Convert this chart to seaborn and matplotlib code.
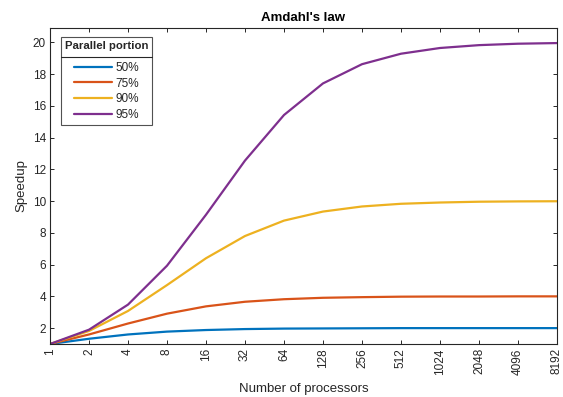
import matplotlib
matplotlib.use("Agg")
import matplotlib.pyplot as plt
import seaborn as sns
import pandas as pd
from matplotlib.lines import Line2D

processors = ["1", "2", "4", "8", "16", "32", "64", "128", "256", "512", "1024", "2048", "4096", "8192"]
s50 = [1.00, 1.33, 1.60, 1.78, 1.88, 1.94, 1.97, 1.98, 1.99, 2.00, 2.00, 2.00, 2.00, 2.00]
s75 = [1.00, 1.60, 2.29, 2.91, 3.37, 3.66, 3.82, 3.91, 3.95, 3.98, 3.99, 3.99, 4.00, 4.00]
s90 = [1.00, 1.82, 3.08, 4.71, 6.40, 7.80, 8.77, 9.34, 9.66, 9.83, 9.91, 9.96, 9.98, 9.99]
s95 = [1.00, 1.90, 3.48, 5.93, 9.14, 12.55, 15.42, 17.41, 18.62, 19.28, 19.64, 19.82, 19.91, 19.95]
portions = ["50%", "75%", "90%", "95%"]
colors = ["#0072BD", "#D95319", "#EDB120", "#7E2F8E"]

rows = []
for name, vals in zip(portions, [s50, s75, s90, s95]):
    for i, v in enumerate(vals):
        rows.append({"pos": i, "Speedup": v, "portion": name})
df = pd.DataFrame(rows)

sns.set_style("white")
plt.rcParams["font.family"] = ["Liberation Sans", "DejaVu Sans"]
tc = "#262626"

fig = plt.figure(figsize=(5.63, 3.97), dpi=100)
ax = fig.add_axes([0.0888, 0.1335, 0.9005, 0.7960])
sns.lineplot(data=df, x="pos", y="Speedup", hue="portion", palette=colors,
             linewidth=1.6, ax=ax, legend=False)

ax.set_xlim(0, len(processors) - 1)
ax.set_ylim(1, 20.9)
ax.set_xticks(range(len(processors)))
ax.set_xticklabels(processors, rotation=90, fontsize=8.5, color=tc)
ax.set_yticks(range(2, 21, 2))
ax.tick_params(axis="y", labelsize=8.5, labelcolor=tc)
ax.tick_params(direction="in", length=3, width=0.7, color=tc, top=True, right=True,
               bottom=True, left=True, pad=3)
for sp in ax.spines.values():
    sp.set_visible(True)
    sp.set_color(tc)
    sp.set_linewidth(0.8)
ax.set_xlabel("Number of processors", fontsize=9.5, color=tc, labelpad=6)
ax.set_ylabel("Speedup", fontsize=9.5, color=tc, labelpad=4)
ax.set_title("Amdahl's law", fontsize=9.5, fontweight="bold", color="black", pad=5)

handles = [Line2D([], [], color=c, lw=1.6) for c in colors]
leg = ax.legend(handles, portions, title="Parallel portion", loc="upper left",
                bbox_to_anchor=(0.021, 0.972), fontsize=8.5,
                title_fontproperties={"weight": "bold", "size": 8.2},
                frameon=True, fancybox=False, edgecolor=tc, handlelength=3.2,
                handletextpad=0.25, labelspacing=0.3, borderpad=0.35,
                borderaxespad=0, alignment="center")
for t in leg.get_texts():
    t.set_color(tc)
leg.get_frame().set_linewidth(0.8)
leg._legend_box.sep = 8
fig.canvas.draw()
tb = leg._legend_title_box.get_window_extent()
hb = leg._legend_handle_box.get_window_extent()
fb = leg.get_frame().get_window_extent()
inv = fig.transFigure.inverted()
y = (tb.y0 + hb.y1) / 2
(x0, yy), (x1, _) = inv.transform([(fb.x0, y), (fb.x1, y)])
fig.add_artist(Line2D([x0, x1], [yy, yy], color=tc, lw=0.8, transform=fig.transFigure))

fig.savefig("out.png", dpi=100)
